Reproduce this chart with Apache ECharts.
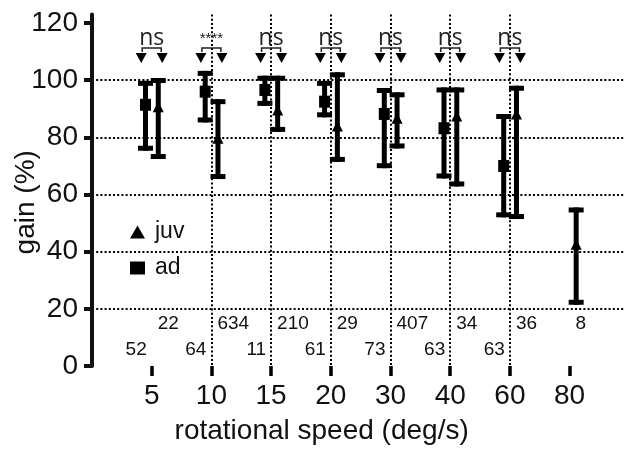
<!DOCTYPE html>
<html><head><meta charset="utf-8">
<script src="https://cdn.jsdelivr.net/npm/echarts@6/dist/echarts.min.js"></script>
<style>html,body{margin:0;padding:0;background:#fff}#c{width:625px;height:449px}</style>
</head><body><div id="c"></div>
<script>
// ---- data ----
const speeds   = ['5','10','15','20','30','40','60','80'];
const adMean   = [91.4, 96.0, 96.6, 92.5, 88.2, 83.2, 70.0, null];
const adLow    = [76.2, 86.1, 91.9, 87.9, 70.1, 66.5, 52.9, null];
const adHigh   = [98.9, 102.4, 100.7, 98.9, 96.4, 96.6, 87.3, null];
const juvMean  = [90.7, 79.7, 89.6, 84.0, 86.7, 87.5, 88.2, 42.6];
const juvLow   = [73.3, 66.3, 82.8, 72.3, 77.0, 63.7, 52.3, 22.3];
const juvHigh  = [99.9, 92.5, 100.7, 101.9, 94.9, 96.6, 97.2, 54.6];
const adN      = [52, 64, 11, 61, 73, 63, 63, null];
const juvN     = [22, 634, 210, 29, 407, 34, 36, 8];
const sigLabels = ['ns', '****', 'ns', 'ns', 'ns', 'ns', 'ns', null];
const yTicks   = [0, 20, 40, 60, 80, 100, 120];

// ---- layout ----
const FONT = '"Liberation Sans", Arial, Helvetica, sans-serif';
const INK = '#111';
const AD_OFF = -0.104, JUV_OFF = 0.11;
const ROW_JUV = 14.7, ROW_AD = 5.85;
const idx = speeds.map((s, i) => i);
const dotted = { color: '#000', width: 2, type: [2, 2.2] };

function barData(low, high, off) {
  const out = [];
  low.forEach((l, i) => { if (l != null) out.push([i + off, l, high[i]]); });
  return out;
}
function pointData(mean, off) {
  const out = [];
  mean.forEach((m, i) => { if (m != null) out.push([i + off, m]); });
  return out;
}
function renderBar(params, api) {
  const x = api.value(0);
  const pLo = api.coord([x, api.value(1)]);
  const pHi = api.coord([x, api.value(2)]);
  const cw = 7.5;
  const st = { stroke: '#000', lineWidth: 5, lineCap: 'butt' };
  return { type: 'group', children: [
    { type: 'line', shape: { x1: pLo[0], y1: pLo[1] + 2.5, x2: pHi[0], y2: pHi[1] - 2.5 }, style: st },
    { type: 'line', shape: { x1: pHi[0] - cw, y1: pHi[1], x2: pHi[0] + cw, y2: pHi[1] }, style: st },
    { type: 'line', shape: { x1: pLo[0] - cw, y1: pLo[1], x2: pLo[0] + cw, y2: pLo[1] }, style: st }
  ]};
}
function renderSig(params, api) {
  const i = api.value(0);
  const p = api.coord([i, 120]);
  const lab = sigLabels[i];
  const cx = p[0], top = p[1];
  const dx = 10.5;
  const tri = (x) => ({ type: 'polygon', shape: { points: [[x - 5.5, top + 30], [x + 5.5, top + 30], [x, top + 40]] }, style: { fill: '#000' } });
  const isStars = lab.indexOf('*') >= 0;
  return { type: 'group', children: [
    { type: 'text', style: { text: lab, x: cx, y: top + (isStars ? 16 : 15), align: 'center', verticalAlign: 'middle',
        font: isStars ? '15px ' + FONT : '23px "Open Sans", ' + FONT, fill: '#222' } },
    { type: 'polyline', shape: { points: [[cx - dx + 1, top + 29], [cx - dx + 1, top + 25], [cx + dx - 1, top + 25], [cx + dx - 1, top + 29]] },
      style: { stroke: '#222', lineWidth: 1.5, fill: null } },
    tri(cx - dx), tri(cx + dx)
  ]};
}

const chart = echarts.init(document.getElementById('c'), null, { renderer: 'canvas' });
chart.setOption({
  animation: false,
  backgroundColor: '#fff',
  textStyle: { fontFamily: FONT },
  grid: { left: 92, right: -4.3, top: 14.5, bottom: 83, containLabel: false, outerBoundsMode: 'none' },
  legend: {
    orient: 'vertical', left: 130, top: 220, padding: 0, itemWidth: 15, itemHeight: 13, itemGap: 12,
    data: [{ name: 'juv', icon: 'triangle' }, { name: 'ad', icon: 'rect' }],
    textStyle: { fontSize: 23, color: INK, fontFamily: FONT, lineHeight: 24, padding: [0, 0, 0, 5] },
    selectedMode: false
  },
  xAxis: {
    type: 'value', min: -1, max: 8, interval: 1,
    axisLine: { show: false, onZero: false },
    axisTick: { show: true, customValues: idx, length: 10, lineStyle: { color: '#000', width: 3.5 } },
    axisLabel: { customValues: idx, formatter: v => speeds[v], fontSize: 28, color: INK, margin: 16, fontFamily: FONT },
    splitLine: { show: true, showMinLine: false, showMaxLine: false, lineStyle: dotted },
    name: 'rotational speed (deg/s)', nameLocation: 'middle', nameGap: 51, nameMoveOverlap: false,
    nameTextStyle: { fontSize: 28, color: INK, fontFamily: FONT, padding: [0, 78, 0, 0] }
  },
  yAxis: {
    type: 'value', min: 0, max: 123, interval: 20,
    axisLine: { show: true, onZero: false, lineStyle: { color: INK, width: 4 } },
    axisTick: { show: true, customValues: yTicks, length: 8, lineStyle: { color: INK, width: 4 } },
    axisLabel: { customValues: yTicks, fontSize: 28, color: INK, margin: 14, fontFamily: FONT },
    splitLine: { show: true, showMinLine: false, showMaxLine: false, lineStyle: dotted },
    name: 'gain (%)', nameLocation: 'middle', nameGap: 52, nameRotate: 90, nameMoveOverlap: false,
    nameTextStyle: { fontSize: 28, color: INK, fontFamily: FONT, padding: [0, 24, 0, 0] }
  },
  series: [
    { type: 'custom', name: 'adErr', renderItem: renderBar, data: barData(adLow, adHigh, AD_OFF), encode: { x: 0, y: [1, 2] }, silent: true, z: 2 },
    { type: 'custom', name: 'juvErr', renderItem: renderBar, data: barData(juvLow, juvHigh, JUV_OFF), encode: { x: 0, y: [1, 2] }, silent: true, z: 2 },
    { type: 'scatter', name: 'juv', symbol: 'triangle', symbolSize: [11, 11], data: pointData(juvMean, JUV_OFF), itemStyle: { color: '#000', opacity: 1 }, z: 3 },
    { type: 'scatter', name: 'ad', symbol: 'rect', symbolSize: [11, 12], data: pointData(adMean, AD_OFF), itemStyle: { color: '#000', opacity: 1 }, z: 3 },
    { type: 'scatter', name: 'nJuv', symbolSize: 0, silent: true, itemStyle: { opacity: 1 },
      data: juvN.map((n, i) => [i, ROW_JUV]),
      label: { show: true, position: 'right', distance: 6, formatter: p => String(juvN[p.dataIndex]), fontSize: 19, color: INK, fontFamily: FONT, opacity: 1 } },
    { type: 'scatter', name: 'nAd', symbolSize: 0, silent: true, itemStyle: { opacity: 1 },
      data: adN.map((n, i) => n == null ? null : [i, ROW_AD]).filter(d => d),
      label: { show: true, position: 'left', distance: 5, formatter: p => String(adN[p.dataIndex]), fontSize: 19, color: INK, fontFamily: FONT, opacity: 1 } },
    { type: 'custom', name: 'sig', renderItem: renderSig, silent: true, z: 4,
      data: sigLabels.map((s, i) => s == null ? null : [i, 120]).filter(d => d), encode: { x: 0, y: 1 } }
  ]
});
</script></body></html>
